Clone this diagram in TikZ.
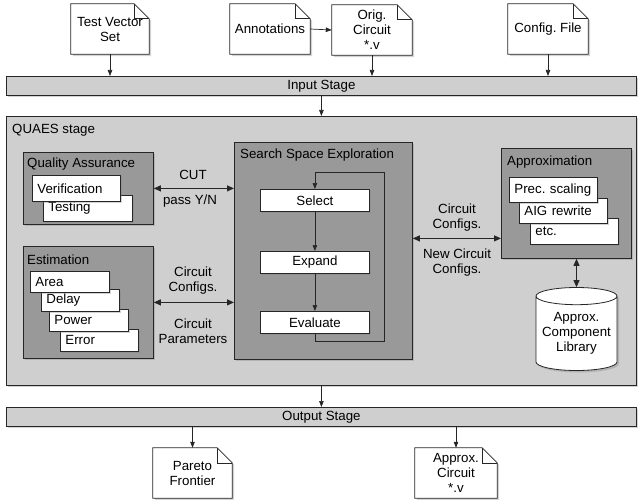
\documentclass[tikz,border=0pt]{standalone}
\usepackage{fontspec}
\setmainfont{Liberation Sans}
\usetikzlibrary{arrows.meta,shapes.geometric,shadows,backgrounds}
\definecolor{lightg}{gray}{0.81}
\definecolor{darkg}{gray}{0.6}
\definecolor{edge}{gray}{0.15}
\tikzset{
  base/.style={draw=edge, line width=0.8pt, anchor=north west, inner sep=0pt},
  shad/.style={drop shadow={shadow xshift=2pt, shadow yshift=-2pt, opacity=0.35}},
  bar/.style={base, fill=lightg, shad, minimum height=19pt, minimum width=630pt},
  group/.style={base, fill=darkg, shad},
  itm/.style={base, fill=white, shad, inner xsep=5pt, inner ysep=0pt, align=left},
  stepbox/.style={base, fill=white, shad, minimum width=109pt, minimum height=22pt},
  doc/.style={inner sep=0pt, minimum height=50pt, align=center},
  ttl/.style={anchor=west, inner sep=0pt},
  lbl/.style={inner sep=0pt, align=center},
  arr/.style={-{Triangle[length=6pt,width=4.5pt]}, line width=0.7pt, draw=edge},
  darr/.style={{Triangle[length=7pt,width=6pt]}-{Triangle[length=7pt,width=6pt]}, line width=0.9pt, draw=edge},
}
\newcommand\docshape[1]{%
  \filldraw[draw=edge, fill=white, line width=0.8pt, shad] (#1.north west) -- ([xshift=-15pt]#1.north east) -- ([yshift=-15pt]#1.north east) -- (#1.south east) -- (#1.south west) -- cycle;
  \draw[draw=edge, line width=0.6pt] ([xshift=-15pt]#1.north east) -- ([xshift=-15pt,yshift=-15pt]#1.north east) -- ([yshift=-15pt]#1.north east);}
\begin{document}
\begin{tikzpicture}[x=1pt, y=-1pt, font=\fontsize{13.3}{15}\selectfont\frenchspacing]
\useasboundingbox (0,0) rectangle (642,500);

% input documents
\node[doc, minimum width=78pt] (tv) at (110,29) {Test Vector\\Set};
\node[doc, minimum width=80pt] (ann) at (270,29) {Annotations};
\node[doc, minimum width=80pt] (orig) at (372,30) {Orig.\\Circuit\\*.v};
\node[doc, minimum width=80pt] (cfg) at (548,29) {Config. File};

% output documents
\node[doc, minimum width=79pt] (par) at (192.5,473) {Pareto\\Frontier};
\node[doc, minimum width=82pt] (apc) at (456,473) {Approx.\\Circuit\\*.v};

\begin{pgfonlayer}{background}
  \docshape{tv}
  \docshape{ann}
  \docshape{orig}
  \docshape{cfg}
  \docshape{par}
  \docshape{apc}
\end{pgfonlayer}

% stages
\node[bar] (inbar) at (6,76) {};
\node[inner sep=0pt] (inT) at (inbar.center) {Input Stage};
\node[base, fill=lightg, shad, minimum width=630pt, minimum height=269pt] (quaes) at (6,116) {};
\node[ttl] (quaesT) at (12,130) {QUAES stage};
\node[bar] (outbar) at (6,407) {};
\node[inner sep=0pt] (outT) at (outbar.center) {Output Stage};

% quality assurance
\node[group, minimum width=130pt, minimum height=72pt] (qa) at (23,152) {};
\node[ttl] (qaT) at (27,164) {Quality Assurance};
\node[itm, text width=79pt, minimum height=26pt] (tst) at (43,195) {\mbox{Testing}};
\node[itm, text width=78pt, minimum height=26pt] (ver) at (32,175) {\mbox{Verification}};

% estimation
\node[group, minimum width=130pt, minimum height=112pt] (est) at (23,246) {};
\node[ttl] (estT) at (27,260) {Estimation};
\node[itm, text width=68pt, minimum height=22pt] (err) at (60,329) {\mbox{Error}};
\node[itm, text width=69pt, minimum height=22pt] (pow) at (49,309) {\mbox{Power}};
\node[itm, text width=68pt, minimum height=22pt] (del) at (41,289) {\mbox{Delay}};
\node[itm, text width=69pt, minimum height=21pt] (area) at (30,271) {\mbox{Area}};

% search space exploration
\node[group, minimum width=178pt, minimum height=217pt] (sse) at (234,142) {};
\node[ttl] (sseT) at (240,155) {Search Space Exploration};
\node[stepbox] (sel) at (260,189) {Select};
\node[stepbox] (exp) at (260,251) {Expand};
\node[stepbox] (eva) at (260,311) {Evaluate};
\coordinate (lb) at (384,341);
\coordinate (lt) at (384,172);

% approximation
\node[group, minimum width=130pt, minimum height=110pt] (appr) at (501,148) {};
\node[ttl] (apprT) at (507,162) {Approximation};
\node[itm, text width=78pt, minimum height=26pt] (etc) at (530,218) {\mbox{etc.}};
\node[itm, text width=78pt, minimum height=25pt] (aig) at (519,198) {\mbox{AIG rewrite}};
\node[itm, text width=78pt, minimum height=25pt] (prec) at (509,177) {\mbox{Prec. scaling}};

% library
\node[cylinder, shape border rotate=90, aspect=0.25, draw=edge, fill=white, line width=0.8pt,
      minimum width=81pt, minimum height=83pt, inner sep=0pt, align=center, shad] (lib) at (576.5,333.5) {Approx.\\Component\\Library};

% labels
\node[lbl] (cutL) at (193,175) {CUT};
\node[lbl] (passL) at (190,201) {pass Y/N};
\node[lbl] (ccL) at (193,280.5) {Circuit\\Configs.};
\node[lbl] (cpL) at (193,331) {Circuit\\Parameters};
\node[lbl] (cc2L) at (457,217.5) {Circuit\\Configs.};
\node[lbl] (nccL) at (457,263) {New Circuit\\Configs.};

% connectors
\draw[arr] (tv.south) -- (tv.south |- inbar.north);
\draw[arr] (ann.east) -- (orig.west);
\draw[arr] (orig.south) -- (orig.south |- inbar.north);
\draw[arr] (cfg.south) -- (cfg.south |- inbar.north);
\draw[arr] (inbar.south) -- (quaes.north);
\draw[arr] (quaes.south) -- (outbar.north);
\draw[arr] (outbar.south -| par.north) -- (par.north);
\draw[arr] (outbar.south -| apc.north) -- (apc.north);

\draw[darr] (qa.east) -- (qa.east -| sse.west);
\draw[darr] (est.east) -- (est.east -| sse.west);
\draw[darr] ([yshift=-35pt]sse.east |- appr.center) -- ([yshift=-35pt]appr.west);
\draw[darr] (lib.north |- appr.south) -- (lib.north);

\draw[arr] (sel.south) -- (exp.north);
\draw[arr] (exp.south) -- (eva.north);
\draw[arr] (eva.south) |- (lb) -- (lt) -| (sel.north);
\end{tikzpicture}
\end{document}
